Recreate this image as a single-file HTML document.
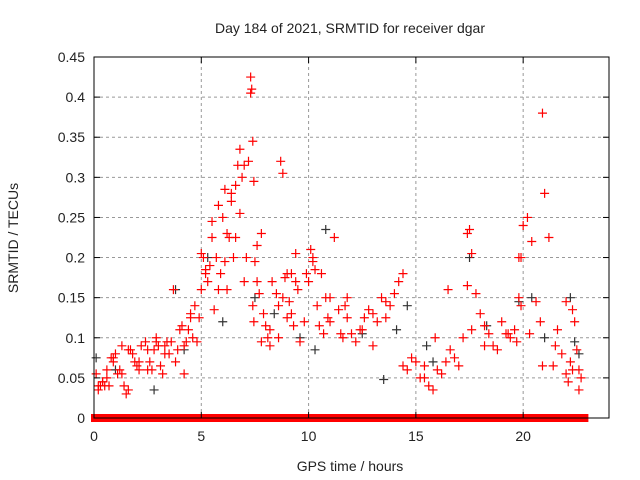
<!DOCTYPE html>
<html><head><meta charset="utf-8"><style>
body{margin:0;background:#fff}
svg{display:block}
text{font-family:"Liberation Sans",sans-serif;font-size:14px;fill:#222}
</style></head><body>
<svg id="chart" width="640" height="480">
<text x="350" y="33" text-anchor="middle">Day 184 of 2021, SRMTID for receiver dgar</text>
<text x="350" y="471" text-anchor="middle">GPS time / hours</text>
<text transform="translate(18,238) rotate(-90)" text-anchor="middle">SRMTID / TECUs</text>
<g id="grid"></g><g id="marks"></g><g id="axes"></g>
</svg>
<script>
const xTicks=[0,5,10,15,20];
const yTicks=[0,0.05,0.1,0.15,0.2,0.25,0.3,0.35,0.4,0.45];
const yTickLabels=["0","0.05","0.1","0.15","0.2","0.25","0.3","0.35","0.4","0.45"];
const redT=[
0.1,0.2,0.3,0.4,0.5,0.6,0.7,0.8,0.9,1.0,
1.1,1.2,1.3,1.4,1.5,1.6,1.7,1.8,1.9,2.0,
2.1,2.2,2.4,2.5,2.6,2.7,2.8,2.9,3.0,3.1,
3.2,3.3,3.4,3.5,3.7,3.8,3.9,4.0,4.1,4.2,
4.3,4.4,4.5,4.6,4.7,4.8,4.9,5.0,5.1,5.2,
5.3,5.4,5.5,5.6,5.7,5.8,5.9,6.0,6.1,6.2,
6.3,6.4,6.5,6.6,6.7,6.8,6.9,7.0,7.1,7.2,
7.3,7.35,7.4,7.45,7.5,7.6,7.7,7.8,7.9,8.0,
8.1,8.2,8.3,8.5,8.6,8.7,8.8,8.9,9.0,9.1,
9.2,9.3,9.4,9.5,9.6,9.8,9.9,10.0,10.1,10.2,
10.3,10.4,10.5,10.7,10.8,10.9,11.0,11.2,11.4,11.5,
11.6,11.7,11.8,12.0,12.2,12.4,12.6,12.8,13.0,13.2,
13.4,13.6,13.8,14.0,14.2,14.4,14.6,14.8,15.0,15.2,
15.4,15.6,15.8,16.0,16.2,16.4,16.6,16.8,17.0,17.2,
17.4,17.5,17.6,17.8,18.0,18.2,18.4,18.6,18.8,19.0,
19.2,19.4,19.6,19.7,19.8,19.9,20.0,20.2,20.4,20.6,
20.8,20.9,21.0,21.2,21.4,21.6,21.8,22.0,22.1,22.2,
22.3,22.4,22.5,22.6,22.7,0.2,0.4,0.6,0.9,1.3,
1.6,2.1,2.5,2.9,3.3,3.6,4.2,4.5,5.0,5.2,
5.5,5.8,6.1,6.2,6.4,6.6,6.8,7.0,7.3,7.4,
7.45,7.6,7.8,8.2,8.6,8.8,9.0,9.2,9.4,10.2,
10.6,11.0,11.8,12.5,13.0,13.6,14.4,15.4,15.9,16.5,
17.4,17.6,18.2,19.3,19.8,19.9,20.3,20.9,21.5,22.0,
22.3,22.6];
const redV=[
0.055,0.035,0.04,0.045,0.04,0.05,0.04,0.075,0.07,0.08,
0.055,0.06,0.09,0.04,0.03,0.035,0.085,0.08,0.07,0.065,
0.06,0.09,0.095,0.085,0.07,0.06,0.085,0.095,0.09,0.065,
0.055,0.09,0.095,0.08,0.16,0.07,0.085,0.11,0.115,0.09,
0.095,0.11,0.125,0.1,0.14,0.095,0.125,0.16,0.2,0.185,
0.17,0.19,0.225,0.135,0.2,0.16,0.18,0.25,0.285,0.16,
0.225,0.28,0.2,0.29,0.315,0.255,0.3,0.17,0.2,0.32,
0.425,0.41,0.345,0.295,0.195,0.17,0.155,0.23,0.13,0.115,
0.1,0.09,0.17,0.155,0.14,0.32,0.305,0.175,0.18,0.145,
0.13,0.115,0.17,0.16,0.095,0.12,0.18,0.17,0.21,0.195,
0.185,0.14,0.115,0.105,0.15,0.125,0.15,0.225,0.135,0.105,
0.1,0.14,0.125,0.105,0.095,0.11,0.125,0.135,0.09,0.12,
0.15,0.125,0.14,0.155,0.17,0.18,0.06,0.075,0.07,0.05,
0.065,0.04,0.035,0.06,0.055,0.07,0.085,0.075,0.065,0.1,
0.165,0.235,0.205,0.155,0.13,0.115,0.105,0.09,0.085,0.12,
0.105,0.1,0.11,0.095,0.15,0.2,0.24,0.25,0.22,0.145,
0.12,0.38,0.28,0.225,0.065,0.11,0.08,0.055,0.045,0.07,
0.135,0.12,0.085,0.06,0.05,0.04,0.045,0.06,0.075,0.055,
0.085,0.07,0.06,0.1,0.08,0.095,0.055,0.13,0.205,0.18,
0.245,0.265,0.195,0.23,0.27,0.225,0.335,0.315,0.405,0.14,
0.12,0.215,0.095,0.11,0.1,0.15,0.125,0.18,0.205,0.2,
0.18,0.12,0.15,0.11,0.13,0.145,0.065,0.05,0.1,0.16,
0.23,0.11,0.09,0.105,0.2,0.14,0.105,0.065,0.09,0.145,
0.06,0.035];
const blackT=[0.1,1.0,2.8,3.8,4.2,5.3,6.0,7.5,8.4,9.6,10.3,10.8,12.5,13.5,14.1,14.6,15.5,15.8,17.5,18.3,19.8,20.4,21.0,22.2,22.4,22.6];
const blackV=[0.075,0.06,0.035,0.16,0.085,0.2,0.12,0.15,0.13,0.1,0.085,0.235,0.105,0.048,0.11,0.14,0.09,0.07,0.2,0.115,0.145,0.15,0.1,0.15,0.095,0.08];
const zeroSeg=[[0,0.5],[0.6,1.2],[1.3,2.1],[2.2,3.3],[3.4,4.9],[5.0,7.6],[7.7,12.3],[12.4,14.1],[14.2,15.6],[15.7,17.0],[17.1,18.6],[18.7,21.3],[21.4,22.0],[22.1,22.3],[22.5,22.9]];
const X0=94,X1=609,Y0=418,Y1=57,XMAX=24,YMAX=0.45;
function xs(t){return X0+t/XMAX*(X1-X0);}
function ys(v){return Y0-v/YMAX*(Y0-Y1);}
const NS="http://www.w3.org/2000/svg";
function mk(tag,attrs,parent){const e=document.createElementNS(NS,tag);for(const k in attrs)e.setAttribute(k,attrs[k]);parent.appendChild(e);return e;}
const grid=document.getElementById('grid'),marks=document.getElementById('marks'),axes=document.getElementById('axes');
xTicks.forEach((t,i)=>{const x=xs(t);
 if(t>0){const g=mk('line',{x1:x,x2:x,y1:Y0,y2:Y1,stroke:'#999','stroke-dasharray':'3,3'},grid);
 
 }
 const tk=mk('line',{x1:x,x2:x,y1:Y0,y2:Y0-6,stroke:'#000'},axes);
 
 
 mk('line',{x1:x,x2:x,y1:Y1,y2:Y1+6,stroke:'#000'},axes);
 const l=mk('text',{x:x,y:Y0+23,'text-anchor':'middle'},axes);l.textContent=t;
 
 });
yTicks.forEach((v,i)=>{const y=ys(v);
 if(v>0&&v<YMAX){const g=mk('line',{x1:X0,x2:X1,y1:y,y2:y,stroke:'#999','stroke-dasharray':'3,3'},grid);
 
 }
 const tk=mk('line',{x1:X0,x2:X0+6,y1:y,y2:y,stroke:'#000'},axes);
 
 
 mk('line',{x1:X1,x2:X1-6,y1:y,y2:y,stroke:'#000'},axes);
 const l=mk('text',{x:X0-9,y:y+5,'text-anchor':'end'},axes);l.textContent=yTickLabels[i];
 
 });
const box=mk('rect',{x:X0,y:Y1,width:X1-X0,height:Y0-Y1,fill:'none',stroke:'#000'},axes);


function plus(t,v,col,name){const x=xs(t),y=ys(v);
 const p=mk('path',{d:`M${x-4.5},${y}H${x+4.5}M${x},${y-4.5}V${y+4.5}`,stroke:col,'stroke-width':1.2,fill:'none'},marks);
 
 }
blackT.forEach((t,i)=>plus(t,blackV[i],'#333','black-point'));
redT.forEach((t,i)=>plus(t,redV[i],'#f00','red-point'));
zeroSeg.forEach(s=>{const r=mk('rect',{x:xs(s[0])-3,y:Y0-4,width:xs(s[1])-xs(s[0])+6,height:8,fill:'#f00'},marks);
 
 });
</script>
</body></html>
